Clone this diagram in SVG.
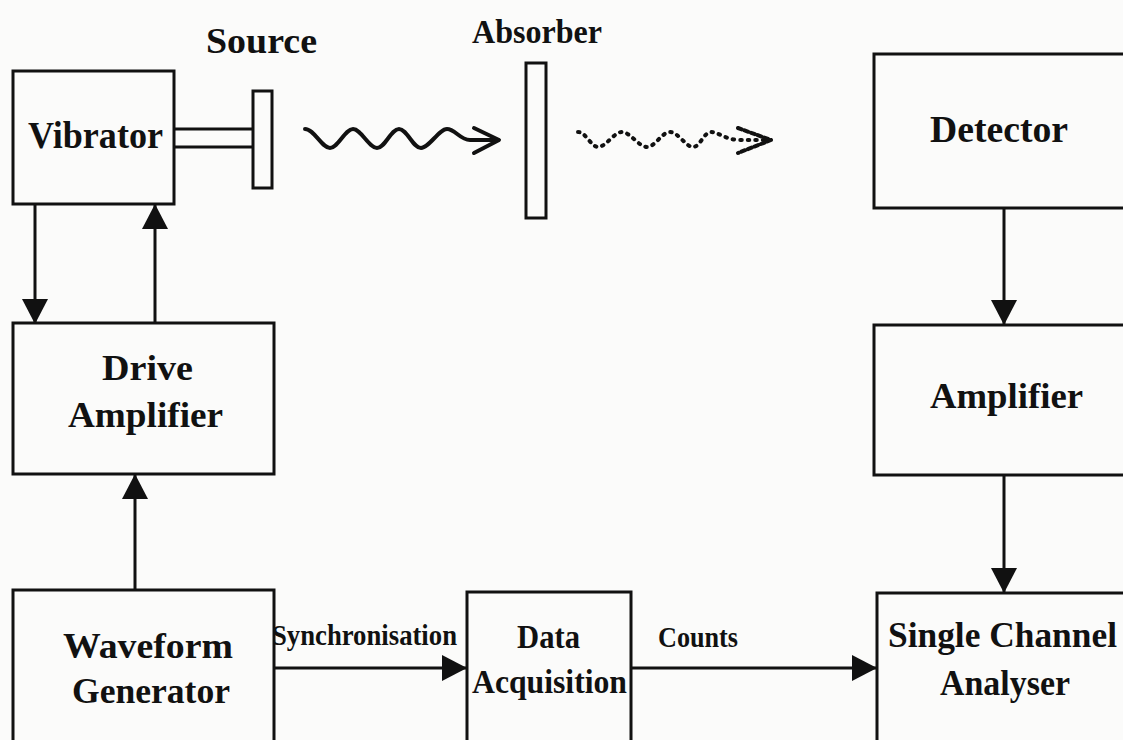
<svg xmlns="http://www.w3.org/2000/svg" width="1123" height="740" viewBox="0 0 1123 740">
  <style>
    .box { fill: none; stroke: #111; stroke-width: 3; }
    .lbl { font-family: "Liberation Serif", "Times New Roman", serif; font-weight: bold; fill: #111; }
    .wire { fill: none; stroke: #111; stroke-width: 3; }
    .wave { fill: none; stroke: #111; stroke-width: 4; stroke-linecap: round; stroke-linejoin: round; }
    .dots { fill: none; stroke: #111; stroke-width: 4; stroke-linecap: round; stroke-linejoin: round; stroke-dasharray: 1.5 6; }
  </style>
  <defs>
    <marker id="head" markerUnits="userSpaceOnUse" markerWidth="26" markerHeight="26" viewBox="0 0 26 26" refX="24" refY="13" orient="auto">
      <path d="M0,0 L25,13 L0,26 Z" fill="#111"/>
    </marker>
  </defs>
  <rect width="1123" height="740" fill="#fbfbfa"/>

  <!-- Vibrator with source on its rod -->
  <g id="vibrator">
    <rect class="box" x="13" y="71" width="161" height="133"/>
    <text class="lbl" x="28" y="148" font-size="37" textLength="135" lengthAdjust="spacingAndGlyphs">Vibrator</text>
  </g>
  <g id="source">
    <path class="box" d="M174,129 H252 M174,147 H252"/>
    <rect class="box" x="253" y="91" width="19" height="97"/>
    <text class="lbl" x="206" y="53" font-size="36" textLength="111" lengthAdjust="spacingAndGlyphs">Source</text>
  </g>
  <g id="absorber">
    <rect class="box" x="526" y="63" width="20" height="155"/>
    <text class="lbl" x="472" y="43" font-size="34" textLength="130" lengthAdjust="spacingAndGlyphs">Absorber</text>
  </g>
  <g id="detector">
    <rect class="box" x="874" y="54" width="260" height="154"/>
    <text class="lbl" x="930" y="142" font-size="38" textLength="138" lengthAdjust="spacingAndGlyphs">Detector</text>
  </g>
  <g id="drive-amplifier">
    <rect class="box" x="13" y="323" width="261" height="151"/>
    <text class="lbl" x="102" y="380" font-size="35" textLength="91" lengthAdjust="spacingAndGlyphs">Drive</text>
    <text class="lbl" x="68" y="427" font-size="35" textLength="155" lengthAdjust="spacingAndGlyphs">Amplifier</text>
  </g>
  <g id="amplifier">
    <rect class="box" x="874" y="325" width="260" height="150"/>
    <text class="lbl" x="930" y="408" font-size="36" textLength="153" lengthAdjust="spacingAndGlyphs">Amplifier</text>
  </g>
  <g id="waveform-generator">
    <rect class="box" x="13" y="590" width="261" height="170"/>
    <text class="lbl" x="63" y="658" font-size="36" textLength="170" lengthAdjust="spacingAndGlyphs">Waveform</text>
    <text class="lbl" x="72" y="703" font-size="36" textLength="158" lengthAdjust="spacingAndGlyphs">Generator</text>
  </g>
  <g id="data-acquisition">
    <rect class="box" x="467" y="592" width="164" height="170"/>
    <text class="lbl" x="517" y="648" font-size="33" textLength="63" lengthAdjust="spacingAndGlyphs">Data</text>
    <text class="lbl" x="472" y="693" font-size="34" textLength="155" lengthAdjust="spacingAndGlyphs">Acquisition</text>
  </g>
  <g id="single-channel-analyser">
    <rect class="box" x="877" y="593" width="260" height="170"/>
    <text class="lbl" x="888" y="647" font-size="35" textLength="229" lengthAdjust="spacingAndGlyphs">Single Channel</text>
    <text class="lbl" x="940" y="695" font-size="35" textLength="130" lengthAdjust="spacingAndGlyphs">Analyser</text>
  </g>

  <g id="connectors">
    <!-- gamma rays: emitted, then transmitted through the absorber -->
    <path class="wave" d="M305,129 C314,129 322,148 330,148 C338,148 345,129 353,129 C361,129 369,148 377,148 C385,148 391,129 399,129 C407,129 413,148 421,148 C429,148 439,129 447,129 C455,129 460,140 470,140 H498"/>
    <path class="wave" d="M474,128 L499,140 L474,153"/>
    <path class="dots" d="M578,132 C586,132 591,147 598,147 C606,147 614,132 622,132 C630,132 639,147 647,147 C655,147 662,132 670,132 C678,132 686,147 693,147 C700,147 704,132 711,132 C718,132 726,140 740,140 H770"/>
    <path class="wave" d="M738,128 L771,140 L738,153" stroke-dasharray="4 3"/>

    <!-- signal lines -->
    <line class="wire" x1="35" y1="204" x2="35" y2="323" marker-end="url(#head)"/>
    <line class="wire" x1="155" y1="323" x2="155" y2="205" marker-end="url(#head)"/>
    <line class="wire" x1="135" y1="590" x2="135" y2="475" marker-end="url(#head)"/>
    <line class="wire" x1="1004" y1="208" x2="1004" y2="324" marker-end="url(#head)"/>
    <line class="wire" x1="1004" y1="475" x2="1004" y2="592" marker-end="url(#head)"/>
    <line class="wire" x1="274" y1="668" x2="466" y2="668" marker-end="url(#head)"/>
    <line class="wire" x1="631" y1="668" x2="876" y2="668" marker-end="url(#head)"/>
    <text class="lbl" x="272" y="645" font-size="30" textLength="185" lengthAdjust="spacingAndGlyphs">Synchronisation</text>
    <text class="lbl" x="658" y="647" font-size="29" textLength="80" lengthAdjust="spacingAndGlyphs">Counts</text>
  </g>
</svg>
